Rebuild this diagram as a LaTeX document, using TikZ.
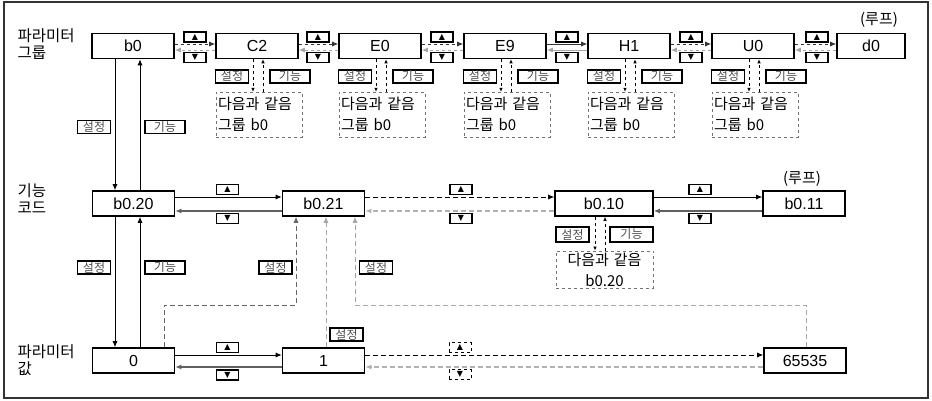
\documentclass[tikz,border=0pt]{standalone}
\usepackage{fontspec}
\setmainfont{Liberation Sans}
\newfontfamily\kr{Noto Sans CJK KR}
\newfontfamily\sym{DejaVu Sans}
\usetikzlibrary{arrows.meta, positioning}

\begin{document}
\begin{tikzpicture}[x=1pt,y=-1pt,
  grp/.style={rectangle,draw,line width=1.6pt,minimum width=82pt,minimum height=25pt,inner sep=0pt,font=\fontsize{16}{16}\selectfont},
  key/.style={rectangle,draw,line width=1.4pt,fill=white,minimum width=22pt,minimum height=10pt,inner sep=0pt,font=\sym\fontsize{8}{8}\selectfont},
  keyd/.style={key,dashed,line width=0.9pt},
  lbl/.style={rectangle,draw,line width=1.3pt,minimum width=33pt,minimum height=13pt,inner sep=0pt,font=\kr\fontsize{12}{12}\selectfont,text=black!70},
  same/.style={rectangle,draw,dashed,gray!90!black,text=black,text width=82pt,minimum height=45pt,inner sep=2pt,align=left,font=\kr\fontsize{15}{21}\selectfont},
  side/.style={anchor=west,align=left,font=\kr\fontsize{15.5}{17}\selectfont},
  go/.style={-{Latex[length=6pt,width=5pt]},line width=0.8pt},
  back/.style={go,gray!75!black,line width=1.1pt},
  sub/.style={-{Latex[length=4pt,width=3.5pt]},dashed,line width=0.7pt},
  jump/.style={go,gray!80!black,dash pattern=on 5pt off 3pt}
]
  \useasboundingbox (0,0) rectangle (932,401);
  \draw[line width=1.3pt,black!80] (4,2) rectangle (928,398);

  % parameter groups
  \node[side](lgrp) at (14,44) {파라미터\\그룹};
  \node[grp](b0) at (133,46) {b0};
  \node[grp](c2) at (257,46) {C2};
  \node[grp](e0) at (380,46) {E0};
  \node[grp](e9) at (505,46) {E9};
  \node[grp](h1) at (629,46) {H1};
  \node[grp](u0) at (753,46) {U0};
  \node[grp,minimum width=68pt](d0) at (871,46) {d0};
  \node[font=\kr\fontsize{15}{15}\selectfont](loopa) at (879,20) {(루프)};

  \foreach \a/\b/\k/\ls in {b0/c2/195/dashed, c2/e0/318/dashed, e0/e9/442/dashed, e9/h1/567/solid, h1/u0/691/dashed, u0/d0/817/dashed}{
    \draw[go,black!80,\ls] ([yshift=2pt]\a.east) -- ([yshift=2pt]\b.west);
    \draw[back,gray!70,line width=0.9pt,\ls] ([yshift=-4pt]\b.west) -- ([yshift=-4pt]\a.east);
    \node[key](up-\a) at (\k,37) {▲};
    \node[key](dn-\a) at (\k,57.5) {▼};
  }

  \foreach \g/\cx in {c2/257, e0/380, e9/505, h1/629, u0/753}{
    \node[lbl](set-\g) at (\cx-25,76.5) {설정};
    \node[lbl,minimum width=40pt](fn-\g) at (\cx+33,76.5) {기능};
    \node[same](eq-\g) at (\cx+2,114.5) {다음과 같음\\그룹 b0};
    \draw[sub] ([xshift=-4pt]\g.south) -- ([xshift=-6pt]eq-\g.north);
    \draw[sub] ([xshift=4pt]eq-\g.north) -- ([xshift=6pt]\g.south);
  }

  % function codes
  \node[side](lfn) at (14,199) {기능\\코드};
  \node[grp](b020) at (133.5,203.5) {b0.20};
  \node[grp](b021) at (323.5,203.5) {b0.21};
  \node[grp,minimum width=98pt](b010) at (604,203.5) {b0.10};
  \node[grp](b011) at (804,203.5) {b0.11};
  \node[font=\kr\fontsize{15}{15}\selectfont](loopb) at (802,179) {(루프)};

  \draw[go] ([xshift=-18pt]b0.south) -- ([xshift=-18.5pt]b020.north);
  \draw[go] ([xshift=6.5pt]b020.north) -- ([xshift=7pt]b0.south);
  \node[lbl](set-b0) at (94,127) {설정};
  \node[lbl,minimum width=40pt](fn-b0) at (165,127) {기능};

  \draw[go] ([yshift=6.5pt]b020.east) -- ([yshift=6.5pt]b021.west);
  \draw[back] ([yshift=-7.5pt]b021.west) -- ([yshift=-7.5pt]b020.east);
  \draw[go,dash pattern=on 5pt off 3pt] ([yshift=6.5pt]b021.east) -- ([yshift=6.5pt]b010.west);
  \draw[back,gray!60,dash pattern=on 5pt off 3pt] ([yshift=-7.5pt]b010.west) -- ([yshift=-7.5pt]b021.east);
  \draw[go] ([yshift=6.5pt]b010.east) -- ([yshift=6.5pt]b011.west);
  \draw[back] ([yshift=-7.5pt]b011.west) -- ([yshift=-7.5pt]b010.east);
  \node[key](up-b020) at (227.5,189.5) {▲};
  \node[key](dn-b020) at (227.5,218.5) {▼};
  \node[key](up-b021) at (461,189.5) {▲};
  \node[key](dn-b021) at (461,218.5) {▼};
  \node[key](up-b010) at (700,189.5) {▲};
  \node[key](dn-b010) at (700,218.5) {▼};

  \node[lbl,minimum height=15pt](set-b010) at (572.5,234.5) {설정};
  \node[lbl,minimum width=43pt,minimum height=15pt](fn-b010) at (631.5,234.5) {기능};
  \node[same,text width=93pt,minimum height=35pt,align=center](eq-b010) at (604.5,269.5) {다음과 같음\\b0.20};
  \draw[sub] ([xshift=-9pt]b010.south) -- ([xshift=-9.5pt]eq-b010.north);
  \draw[sub] ([xshift=0.5pt]eq-b010.north) -- ([xshift=1pt]b010.south);

  % parameter values
  \node[side](lval) at (14,360) {파라미터\\값};
  \node[grp](zero) at (133.5,360.5) {0};
  \node[grp](one) at (323.5,360.5) {1};
  \node[grp](max) at (805,360.5) {65535};

  \draw[go] ([xshift=-18.5pt]b020.south) -- ([xshift=-18.5pt]zero.north);
  \draw[go] ([xshift=6.5pt]zero.north) -- ([xshift=6.5pt]b020.south);
  \node[lbl](set-b020) at (94,267.5) {설정};
  \node[lbl,minimum width=40pt](fn-b020) at (165,267.5) {기능};

  \draw[go] ([yshift=5.5pt]zero.east) -- ([yshift=5.5pt]one.west);
  \draw[back] ([yshift=-6.5pt]one.west) -- ([yshift=-6.5pt]zero.east);
  \draw[go,dash pattern=on 5pt off 3pt] ([yshift=5.5pt]one.east) -- ([yshift=5.5pt]max.west);
  \draw[back,gray!60,dash pattern=on 5pt off 3pt] ([yshift=-6.5pt]max.west) -- ([yshift=-6.5pt]one.east);
  \node[key](up-zero) at (227.5,347.5) {▲};
  \node[key](dn-zero) at (227.5,375) {▼};
  \node[keyd](up-one) at (460,347.5) {▲};
  \node[keyd](dn-one) at (460,374.5) {▼};

  % set back to b0.21
  \coordinate (ja) at (296,305);
  \coordinate (jb) at (355,305);
  \draw[jump] ([xshift=31pt]zero.north) |- (ja) -- (ja |- b021.south);
  \draw[jump,gray!70] ([xshift=2.5pt]one.north) -- ([xshift=2.5pt]b021.south);
  \draw[jump,gray!70] ([xshift=1pt]max.north) |- (jb) -- (jb |- b021.south);
  \node[lbl](set-ja) at (275.5,267.5) {설정};
  \node[lbl](set-one) at (346.5,334.5) {설정};
  \node[lbl](set-jb) at (376,267.5) {설정};
\end{tikzpicture}
\end{document}
